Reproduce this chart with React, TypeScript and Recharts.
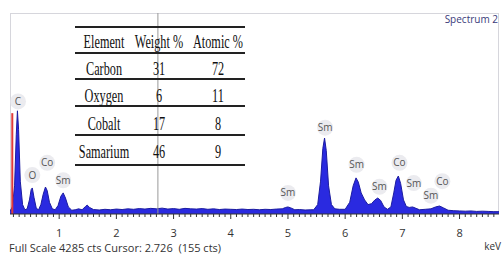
import React from 'react';
import { AreaChart, Area, XAxis, YAxis, ReferenceLine, ReferenceDot } from 'recharts';

const kev = [
  0.14, 0.18, 0.22, 0.25, 0.27, 0.29, 0.32, 0.36, 0.40, 0.44, 0.48, 0.51, 0.53, 0.56, 0.60, 0.64,
  0.68, 0.72, 0.76, 0.79, 0.83, 0.88, 0.93, 0.98, 1.03, 1.07, 1.11, 1.16, 1.22, 1.28, 1.34, 1.40,
  1.46, 1.49, 1.53, 1.60, 1.70, 1.80, 1.90, 2.00, 2.10, 2.20, 2.30, 2.40, 2.50, 2.60, 2.70, 2.80,
  2.90, 3.00, 3.10, 3.20, 3.30, 3.40, 3.50, 3.60, 3.70, 3.80, 3.90, 4.00, 4.10, 4.20, 4.30, 4.40,
  4.50, 4.60, 4.70, 4.80, 4.90, 4.96, 5.00, 5.05, 5.12, 5.20, 5.30, 5.40, 5.45, 5.52, 5.57, 5.61,
  5.64, 5.67, 5.71, 5.76, 5.82, 5.90, 6.00, 6.08, 6.14, 6.19, 6.23, 6.28, 6.34, 6.40, 6.46, 6.52,
  6.57, 6.62, 6.68, 6.74, 6.80, 6.85, 6.89, 6.93, 6.97, 7.02, 7.07, 7.12, 7.18, 7.24, 7.30, 7.40,
  7.50, 7.58, 7.65, 7.72, 7.80, 7.90, 8.00, 8.10, 8.20, 8.30, 8.40, 8.50, 8.60, 8.69,
];
const counts = [
  60, 150, 600, 1700, 2200, 1800, 700, 200, 90, 110, 300, 520, 555, 350, 120, 90,
  200, 420, 575, 500, 250, 110, 90, 180, 380, 450, 340, 150, 80, 90, 110, 90,
  160, 190, 140, 95, 85, 100, 90, 105, 95, 110, 100, 115, 105, 120, 110, 125,
  105, 115, 100, 120, 110, 105, 115, 100, 110, 95, 105, 100, 95, 105, 95, 100,
  90, 100, 95, 105, 110, 140, 150, 130, 90, 95, 85, 90, 90, 200, 700, 1400,
  1620, 1350, 600, 200, 110, 100, 100, 250, 600, 770, 680, 450, 300, 200, 220, 300,
  340, 290, 150, 100, 150, 450, 720, 810, 650, 300, 160, 140, 150, 120, 90, 100,
  110, 150, 170, 130, 80, 70, 65, 60, 65, 55, 60, 55, 50, 50,
];
const spectrum = kev.map((k, i) => ({ kev: k, cts: counts[i] }));

const minorTicks = Array.from({ length: 86 }, (_, i) => Math.round((0.2 + i * 0.1) * 10) / 10).filter((v) => v <= 8.6);

const peakLabels = ['C', 'O', 'Co', 'Sm', 'Sm', 'Sm', 'Sm', 'Sm', 'Co', 'Sm', 'Sm', 'Co'];
const peakLabelKev = [0.28, 0.53, 0.79, 1.07, 5.0, 5.65, 6.2, 6.6, 6.95, 7.2, 7.5, 7.7];
const peakLabelCts = [2400, 830, 1090, 720, 450, 1840, 1050, 580, 1090, 660, 390, 700];

const tableHeader = ['Element', 'Weight %', 'Atomic %'];
const elements = ['Carbon', 'Oxygen', 'Cobalt', 'Samarium'];
const weightPct = ['31', '6', '17', '46'];
const atomicPct = ['72', '11', '8', '9'];

const AxisTick = (props: any) => {
  const { x, y, payload } = props;
  const v = payload.value;
  const major = Math.abs(v - Math.round(v)) < 1e-6;
  return (
    <g>
      <line x1={x} x2={x} y1={y} y2={y + (major ? 5 : 3)} stroke="#333" strokeWidth={1} />
      {major && (
        <text x={x} y={y + 23} textAnchor="middle" fontSize={11} fill="#333" fontFamily="'Open Sans', sans-serif">
          {v}
        </text>
      )}
    </g>
  );
};

const LabelShape = (text: string) => (props: any) => {
  const { cx, cy } = props;
  return (
    <g>
      <circle cx={cx} cy={cy} r={8} fill="#e4e4ea" fillOpacity={0.75} />
      <text x={cx} y={cy + 3.5} textAnchor="middle" fontSize={10} fill="#555" fontFamily="'Open Sans', sans-serif">
        {text}
      </text>
    </g>
  );
};

const colX = [104, 159, 218];
const rowLines = [27, 53, 79, 106, 135, 165];
const rowText = [42, 69, 96, 124, 152];

const cellStyle = (cx: number, cy: number): React.CSSProperties => ({
  position: 'absolute',
  left: cx - 60,
  top: cy - 12,
  width: 120,
  height: 24,
  lineHeight: '24px',
  textAlign: 'center',
  fontFamily: "'Liberation Serif', 'DejaVu Serif', serif",
  fontSize: 18,
  color: '#111',
  transform: 'scaleX(0.68)',
  whiteSpace: 'nowrap',
});

export default function App() {
  const rows = [tableHeader, ...elements.map((e, i) => [e, weightPct[i], atomicPct[i]])];
  return (
    <div style={{ position: 'absolute', left: 0, top: 0, width: 503, height: 255, background: '#fff', overflow: 'hidden' }}>
      <div style={{ position: 'absolute', left: 10, top: 13, width: 489, height: 201, border: '1px solid #d6d6dc', boxSizing: 'border-box' }} />
      <div style={{ position: 'absolute', left: 0, top: 0 }}>
        <AreaChart width={503} height={255} data={spectrum} margin={{ top: 13, right: 4, left: 10, bottom: 11 }}>
          <XAxis
            dataKey="kev"
            type="number"
            domain={[0.14, 8.69]}
            ticks={minorTicks}
            interval={0}
            allowDataOverflow
            height={30}
            tickLine={false}
            tickSize={0}
            tickMargin={0}
            axisLine={{ stroke: '#333', strokeWidth: 1 }}
            tick={<AxisTick />}
          />
          <YAxis hide domain={[0, 4285]} allowDataOverflow />
          <ReferenceLine x={2.726} stroke="#9a9a9a" strokeWidth={1} />
          <Area
            type="linear"
            dataKey="cts"
            stroke="#1c1ca0"
            strokeWidth={1}
            fill="#2a2ae0"
            fillOpacity={1}
            isAnimationActive={false}
          />
          <ReferenceLine
            segment={[{ x: 0.18, y: 0 }, { x: 0.18, y: 2150 }]}
            stroke="#e03a3a"
            strokeWidth={2}
          />
          {peakLabels.map((t, i) => (
            <ReferenceDot
              key={i}
              x={peakLabelKev[i]}
              y={peakLabelCts[i]}
              r={8}
              ifOverflow="visible"
              shape={LabelShape(t)}
            />
          ))}
        </AreaChart>
      </div>
      {rowLines.map((y, i) => (
        <div key={'l' + i} style={{ position: 'absolute', left: 75, top: y - 1, width: 170, height: 2, background: '#222' }} />
      ))}
      {rows.map((r, ri) =>
        r.map((c, ci) => (
          <div key={ri + '-' + ci} style={cellStyle(colX[ci], rowText[ri])}>
            {c}
          </div>
        ))
      )}
      <div style={{ position: 'absolute', right: 5, top: 12, fontFamily: "'Open Sans', sans-serif", fontSize: 10, color: '#3a3a7a' }}>
        Spectrum 2
      </div>
      <div style={{ position: 'absolute', right: 2, top: 239, fontFamily: "'Open Sans', sans-serif", fontSize: 10, color: '#333', whiteSpace: 'nowrap' }}>
        keV
      </div>
      <div style={{ position: 'absolute', left: 9, top: 240, fontFamily: "'Open Sans', sans-serif", fontSize: 11, color: '#333', whiteSpace: 'pre' }}>
        Full Scale 4285 cts Cursor: 2.726  (155 cts)
      </div>
    </div>
  );
}
